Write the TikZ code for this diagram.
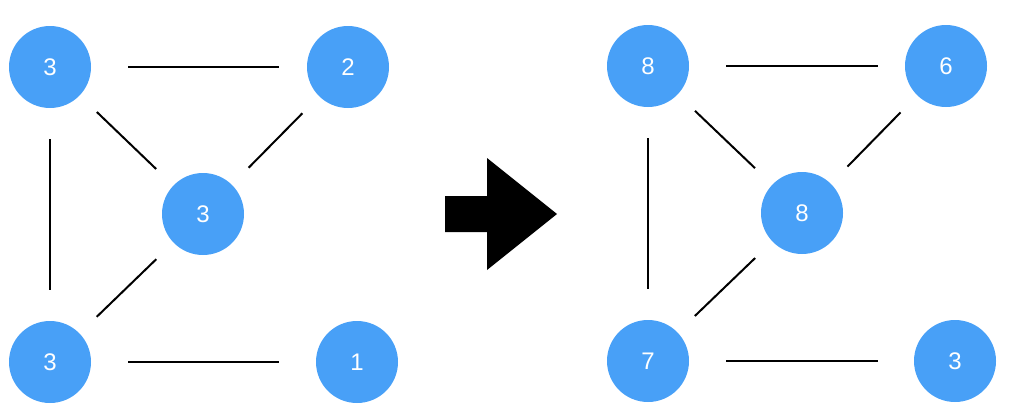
\documentclass[tikz,border=0pt]{standalone}
\usepackage{fontspec}
\setmainfont{Liberation Sans}
\definecolor{nodeblue}{RGB}{72,160,247}
\begin{document}
\begin{tikzpicture}[x=1pt,y=-1pt]
        \tikzstyle{vertex}=[circle,fill=nodeblue,text=white,minimum size=82pt,inner sep=0pt,outer sep=0pt,font=\fontsize{24}{28}\selectfont]
        \tikzstyle{link}=[line width=2pt,shorten >=31pt,shorten <=31pt]
        \tikzstyle{rung}=[line width=2pt,shorten <=37pt]
        \tikzstyle{slant}=[line width=2pt,shorten >=24pt,shorten <=24pt]
        \useasboundingbox (0,0) rectangle (1024,418);

        % before
        \draw (50,67) node[vertex] (v1) {3};
        \draw (348,67) node[vertex] (v2) {2};
        \draw (203,214) node[vertex] (v3) {3};
        \draw (50,362) node[vertex] (v4) {3};
        \draw (357,362) node[vertex] (v5) {1};

        \draw[rung,shorten >=28pt] (v1) -- (v2);
        \draw[link] (v1) -- (v4);
        \draw[rung,shorten >=37pt] (v4) -- (v5);
        \draw[slant] (v1) -- (v3);
        \draw[slant] (v2) -- (v3);
        \draw[slant] (v4) -- (v3);

        % arrow
        \fill (445,196) -- (487,196) -- (487,158) -- (557,214) -- (487,270) -- (487,232) -- (445,232) -- cycle;

        % after
        \draw (648,66) node[vertex] (v6) {8};
        \draw (946,66) node[vertex] (v7) {6};
        \draw (802,213) node[vertex] (v8) {8};
        \draw (648,361) node[vertex] (v9) {7};
        \draw (955,361) node[vertex] (v10) {3};

        \draw[rung,shorten >=27pt] (v6) -- (v7);
        \draw[link] (v6) -- (v9);
        \draw[rung,shorten >=36pt] (v9) -- (v10);
        \draw[slant] (v6) -- (v8);
        \draw[slant] (v7) -- (v8);
        \draw[slant] (v9) -- (v8);

    \end{tikzpicture}
\end{document}
